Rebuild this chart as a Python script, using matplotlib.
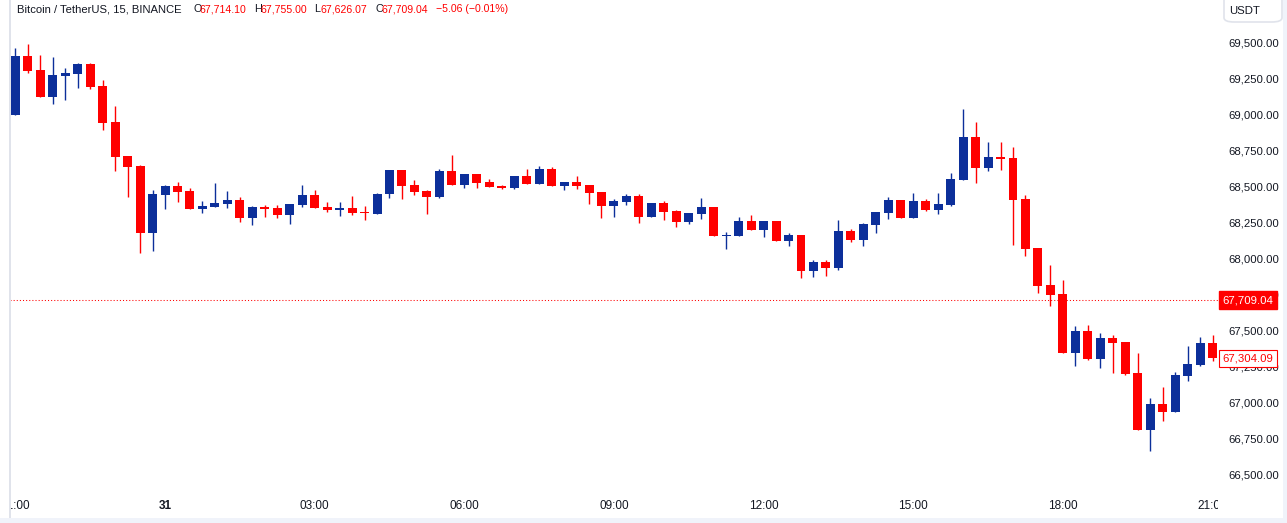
import numpy as np
import pandas as pd
import matplotlib
matplotlib.use("Agg")
import matplotlib.pyplot as plt
import matplotlib.transforms as mtransforms
from matplotlib.patches import FancyBboxPatch, Rectangle
from matplotlib.ticker import FuncFormatter

plt.rcParams['font.family'] = ['Liberation Sans', 'DejaVu Sans']

# BTCUSDT 15m candles, 30 May 21:00 -> 31 May 21:00
times = pd.date_range("2024-05-30 21:00", periods=97, freq="15min")

opens = [68997, 69407, 69310, 69124, 69270, 69280, 69352, 69199, 68948, 68712,
         68642, 68178, 68443, 68503, 68468, 68345, 68359, 68380, 68406, 68283,
         68357, 68350, 68304, 68373, 68441, 68357, 68338, 68350, 68324, 68311,
         68450, 68615, 68510, 68468, 68429, 68608, 68512, 68587, 68531, 68503,
         68491, 68573, 68519, 68621, 68505, 68531, 68510, 68461, 68366, 68392,
         68434, 68290, 68385, 68329, 68255, 68311, 68357, 68158, 68158, 68260,
         68199, 68260, 68123, 68162, 67914, 67975, 67935, 68190, 68130, 68234,
         68317, 68406, 68283, 68399, 68338, 68373, 68547, 68844, 68631, 68705,
         68698, 68413, 68072, 67815, 67752, 67344, 67495, 67302, 67446, 67418,
         67202, 66808, 66987, 66933, 67184, 67258, 67411]

highs = [69461, 69491, 69414, 69400, 69324, 69359, 69359, 69240, 69060, 68712,
         68649, 68475, 68510, 68531, 68489, 68399, 68524, 68468, 68427, 68364,
         68371, 68371, 68378, 68510, 68475, 68392, 68392, 68434, 68364, 68455,
         68615, 68615, 68545, 68475, 68621, 68719, 68587, 68587, 68552, 68510,
         68573, 68621, 68642, 68635, 68531, 68573, 68510, 68461, 68413, 68448,
         68448, 68385, 68399, 68336, 68315, 68420, 68357, 68185, 68288, 68302,
         68260, 68260, 68176, 68162, 67988, 67988, 68267, 68204, 68246, 68322,
         68427, 68406, 68455, 68413, 68455, 68594, 69039, 68948, 68809, 68809,
         68775, 68441, 68072, 67954, 67849, 67529, 67536, 67481, 67467, 67418,
         67341, 67028, 67105, 67209, 67390, 67453, 67467]

lows = [68997, 69291, 69124, 69076, 69103, 69187, 69178, 68893, 68610, 68429,
        68039, 68053, 68345, 68394, 68345, 68317, 68359, 68352, 68255, 68234,
        68290, 68283, 68241, 68359, 68352, 68324, 68297, 68304, 68269, 68311,
        68422, 68415, 68443, 68311, 68422, 68512, 68491, 68491, 68498, 68482,
        68484, 68519, 68519, 68505, 68477, 68484, 68380, 68283, 68290, 68373,
        68248, 68290, 68269, 68220, 68241, 68276, 68158, 68067, 68158, 68199,
        68151, 68123, 68088, 67865, 67872, 67879, 67921, 68116, 68088, 68178,
        68276, 68283, 68283, 68331, 68311, 68366, 68547, 68526, 68610, 68617,
        68095, 68018, 67761, 67671, 67344, 67253, 67295, 67239, 67204, 67191,
        66808, 66662, 66871, 66933, 67149, 67253, 67285]

closes = [69407, 69305, 69124, 69275, 69289, 69352, 69192, 68943, 68707, 68637,
          68178, 68448, 68503, 68464, 68345, 68364, 68385, 68406, 68283, 68357,
          68345, 68304, 68378, 68441, 68352, 68338, 68350, 68317, 68317, 68448,
          68615, 68505, 68464, 68429, 68608, 68512, 68587, 68526, 68498, 68491,
          68573, 68519, 68621, 68505, 68531, 68505, 68457, 68366, 68399, 68434,
          68290, 68385, 68324, 68255, 68315, 68357, 68158, 68164, 68260, 68199,
          68260, 68123, 68162, 67914, 67975, 67935, 68190, 68130, 68239, 68322,
          68406, 68283, 68399, 68338, 68378, 68552, 68844, 68631, 68705, 68691,
          68408, 68067, 67810, 67747, 67344, 67495, 67302, 67446, 67413, 67197,
          66808, 66987, 66933, 67188, 67265, 67411, 67304.09]

price_ticks = [66500, 66750, 67000, 67250, 67500, 67750, 68000,
               68250, 68500, 68750, 69000, 69250, 69500]

last_price = 67709.04
header_labels = ["O", "H", "L", "C"]
header_vals = ["67,714.10", "67,755.00", "67,626.07", "67,709.04"]
change_txt = "\u22125.06 (\u22120.01%)"
title_txt = "Bitcoin / TetherUS, 15, BINANCE"

UP = "#0C2F9A"
DOWN = "#FF0000"
TXT = "#131722"
BORDER = "#E0E3EB"

W, H = 1287, 523
fig = plt.figure(figsize=(W / 100, H / 100), dpi=100)
fig.patch.set_facecolor("white")
ax = fig.add_axes([10 / W, 33 / H, 1208 / W, 490 / H])

x = np.arange(len(opens))
o = np.array(opens, float)
c = np.array(closes, float)
hi = np.array(highs, float)
lo = np.array(lows, float)
up = c >= o
cols = np.where(up, UP, DOWN)

ax.vlines(x, lo, hi, colors=cols, linewidth=1.0, zorder=2)
body_h = np.maximum(np.abs(c - o), 7)
ax.bar(x, body_h, bottom=np.minimum(o, c), width=0.72, color=cols, linewidth=0, zorder=3)

ax.axhline(last_price, color=DOWN, linewidth=0.75, linestyle=(0, (1, 2)), zorder=1)

ax.set_xlim(-0.433, 96.44)
ax.set_ylim(66389, 69797)
for s in ax.spines.values():
    s.set_visible(False)
ax.set_xticks([])
ax.yaxis.tick_right()
ax.set_yticks(price_ticks)
ax.yaxis.set_major_formatter(FuncFormatter(lambda v, p: f"{v:,.2f}"))
ax.tick_params(axis="y", length=0, pad=7.5, labelsize=8.2, labelcolor=TXT)
for t in ax.get_yticklabels():
    t.set_ha("left")

# price labels on the scale
btrans = mtransforms.blended_transform_factory(ax.transAxes, ax.transData)
ax.text(1 + 4.5 / 1208, last_price, f"{last_price:,.2f}", transform=btrans, va="center", ha="left",
        fontsize=8.2, color="white", clip_on=False, zorder=10,
        bbox=dict(boxstyle="square,pad=0.34", fc=DOWN, ec=DOWN))
ax.text(1 + 4.5 / 1208, closes[-1], f"{closes[-1]:,.2f}", transform=btrans, va="center", ha="left",
        fontsize=8.2, color=DOWN, clip_on=False, zorder=10,
        bbox=dict(boxstyle="square,pad=0.28", fc="white", ec=DOWN, lw=0.8))

# time scale
tax = fig.add_axes([10 / W, 5 / H, 1208 / W, 27 / H])
tax.set_xlim(ax.get_xlim())
tax.set_ylim(0, 1)
tax.axis("off")
for i, t in enumerate(times):
    if t.minute == 0 and t.hour % 3 == 0:
        if t.hour == 0:
            tax.text(i, 0.45, str(t.day), ha="center", va="center", fontsize=8.5,
                     color=TXT, fontweight="bold", clip_on=True)
        else:
            tax.text(i, 0.45, t.strftime("%H:%M"), ha="center", va="center", fontsize=8.5,
                     color=TXT, clip_on=True)

# header
fy = (H - 9) / H
fig.text(17 / W, fy, title_txt, fontsize=8.1, color=TXT, va="center", ha="left")
hx = [193, 254, 314, 375]
for lab, val, px in zip(header_labels, header_vals, hx):
    fig.text(px / W, fy, lab, fontsize=7.8, color=TXT, va="center", ha="left")
    fig.text((px + 6.5) / W, fy, val, fontsize=7.6, color=DOWN, va="center", ha="left")
fig.text(436 / W, fy, change_txt, fontsize=7.6, color=DOWN, va="center", ha="left")

# currency box
fig.add_artist(FancyBboxPatch((1224 / W, (H - 22) / H), 58 / W, 26 / H,
                              boxstyle="round,pad=0,rounding_size=0.008",
                              transform=fig.transFigure, fc="white", ec=BORDER, lw=1.2))
fig.text(1245 / W, (H - 11) / H, "USDT", fontsize=8.2, color=TXT, va="center", ha="center")

# frame lines
fig.add_artist(Rectangle((9 / W, 0), 2 / W, 1, transform=fig.transFigure, fc=BORDER, ec="none"))
fig.add_artist(Rectangle((0, 0), 1, 5 / H, transform=fig.transFigure, fc="#F0F3FA", ec="none"))
fig.add_artist(Rectangle((1283 / W, 0), 4 / W, 1, transform=fig.transFigure, fc="#F0F3FA", ec="none"))

fig.savefig("out.png", dpi=100)
